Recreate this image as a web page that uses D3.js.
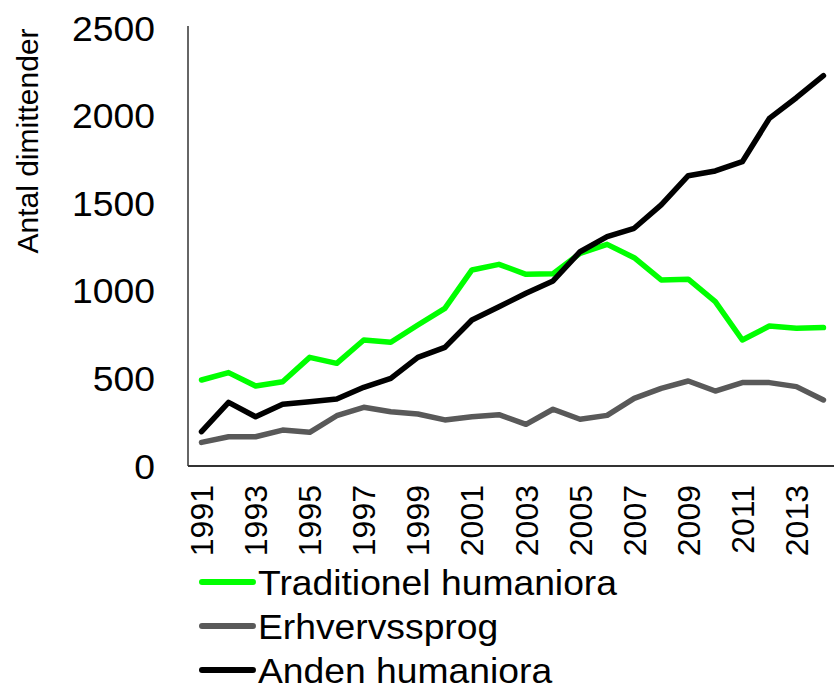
<!DOCTYPE html>
<html>
<head>
<meta charset="utf-8">
<script src="https://cdn.jsdelivr.net/npm/d3@7"></script>
<style>
  body { margin: 0; background: #fff; }
  svg { font-family: "Liberation Sans", Arial, sans-serif; }
</style>
</head>
<body>
<svg id="chart"></svg>
<script>
const years = d3.range(1991, 2015);
const yTicks = [0, 500, 1000, 1500, 2000, 2500];
const xTickYears = [1991, 1993, 1995, 1997, 1999, 2001, 2003, 2005, 2007, 2009, 2011, 2013];

const traditionel = [491, 533, 457, 481, 620, 586, 719, 706, 805, 900, 1119, 1151,
                     1094, 1098, 1214, 1265, 1189, 1062, 1066, 938, 719, 799, 786, 790];
const erhverv = [135, 167, 167, 205, 192, 287, 335, 310, 297, 263, 281, 293,
                 238, 324, 267, 289, 386, 443, 485, 428, 476, 476, 453, 377];
const anden = [196, 363, 281, 352, 367, 382, 449, 500, 620, 677, 833, 909,
               986, 1056, 1223, 1309, 1357, 1490, 1657, 1684, 1737, 1984, 2102, 2228];

const seriesNames = ["Traditionel humaniora", "Erhvervssprog", "Anden humaniora"];
const seriesColors = ["#00ff00", "#595959", "#000000"];

const width = 834, height = 688;
const svg = d3.select("#chart").attr("width", width).attr("height", height);

const plotLeft = 188, plotBottom = 466, plotTop = 28;
const stretch = 1.065; // text in the original is a little wider than Liberation Sans
const x = d3.scalePoint().domain(years).range([plotLeft, plotLeft + 24 * 27.04]).padding(0.5);
const y = d3.scaleLinear().domain([0, 2500]).range([plotBottom, plotTop]);

// axes lines
svg.append("line")
   .attr("x1", plotLeft).attr("x2", plotLeft)
   .attr("y1", y(2500) - 2).attr("y2", plotBottom)
   .attr("stroke", "#333").attr("stroke-width", 1.5);
svg.append("line")
   .attr("x1", plotLeft).attr("x2", width)
   .attr("y1", plotBottom).attr("y2", plotBottom)
   .attr("stroke", "#333").attr("stroke-width", 2);

// y tick labels
svg.selectAll(".ytick")
   .data(yTicks)
   .enter()
   .append("text")
   .attr("class", "ytick")
   .attr("transform", d => `translate(155,${y(d)}) scale(${stretch},1)`)
   .attr("dy", "0.36em")
   .attr("text-anchor", "end")
   .attr("font-size", 35)
   .text(d => d);

// x tick labels (rotated)
svg.selectAll(".xtick")
   .data(xTickYears)
   .enter()
   .append("text")
   .attr("class", "xtick")
   .attr("transform", d => `translate(${x(d)},${plotBottom + 19}) rotate(-90)`)
   .attr("dy", "0.36em")
   .attr("text-anchor", "end")
   .attr("font-size", 32)
   .text(d => d);

// y title
svg.append("text")
   .attr("transform", "translate(38,141) rotate(-90)")
   .attr("text-anchor", "middle")
   .attr("font-size", 30)
   .text("Antal dimittender");

// lines
const line = d3.line().x((d, i) => x(years[i])).y(d => y(d));
[traditionel, erhverv, anden].forEach((vals, i) => {
    svg.append("path")
       .datum(vals)
       .attr("d", line)
       .attr("fill", "none")
       .attr("stroke", seriesColors[i])
       .attr("stroke-width", 5.5)
       .attr("stroke-linejoin", "round")
       .attr("stroke-linecap", "round");
});

// legend
seriesNames.forEach((name, i) => {
    const ly = 582 + i * 44;
    svg.append("line")
       .attr("x1", 202).attr("x2", 253)
       .attr("y1", ly).attr("y2", ly)
       .attr("stroke", seriesColors[i])
       .attr("stroke-width", 6)
       .attr("stroke-linecap", "round");
    svg.append("text")
       .attr("transform", `translate(258,${ly}) scale(${stretch},1)`)
       .attr("dy", "0.36em")
       .attr("font-size", 35)
       .text(name);
});
</script>
</body>
</html>
